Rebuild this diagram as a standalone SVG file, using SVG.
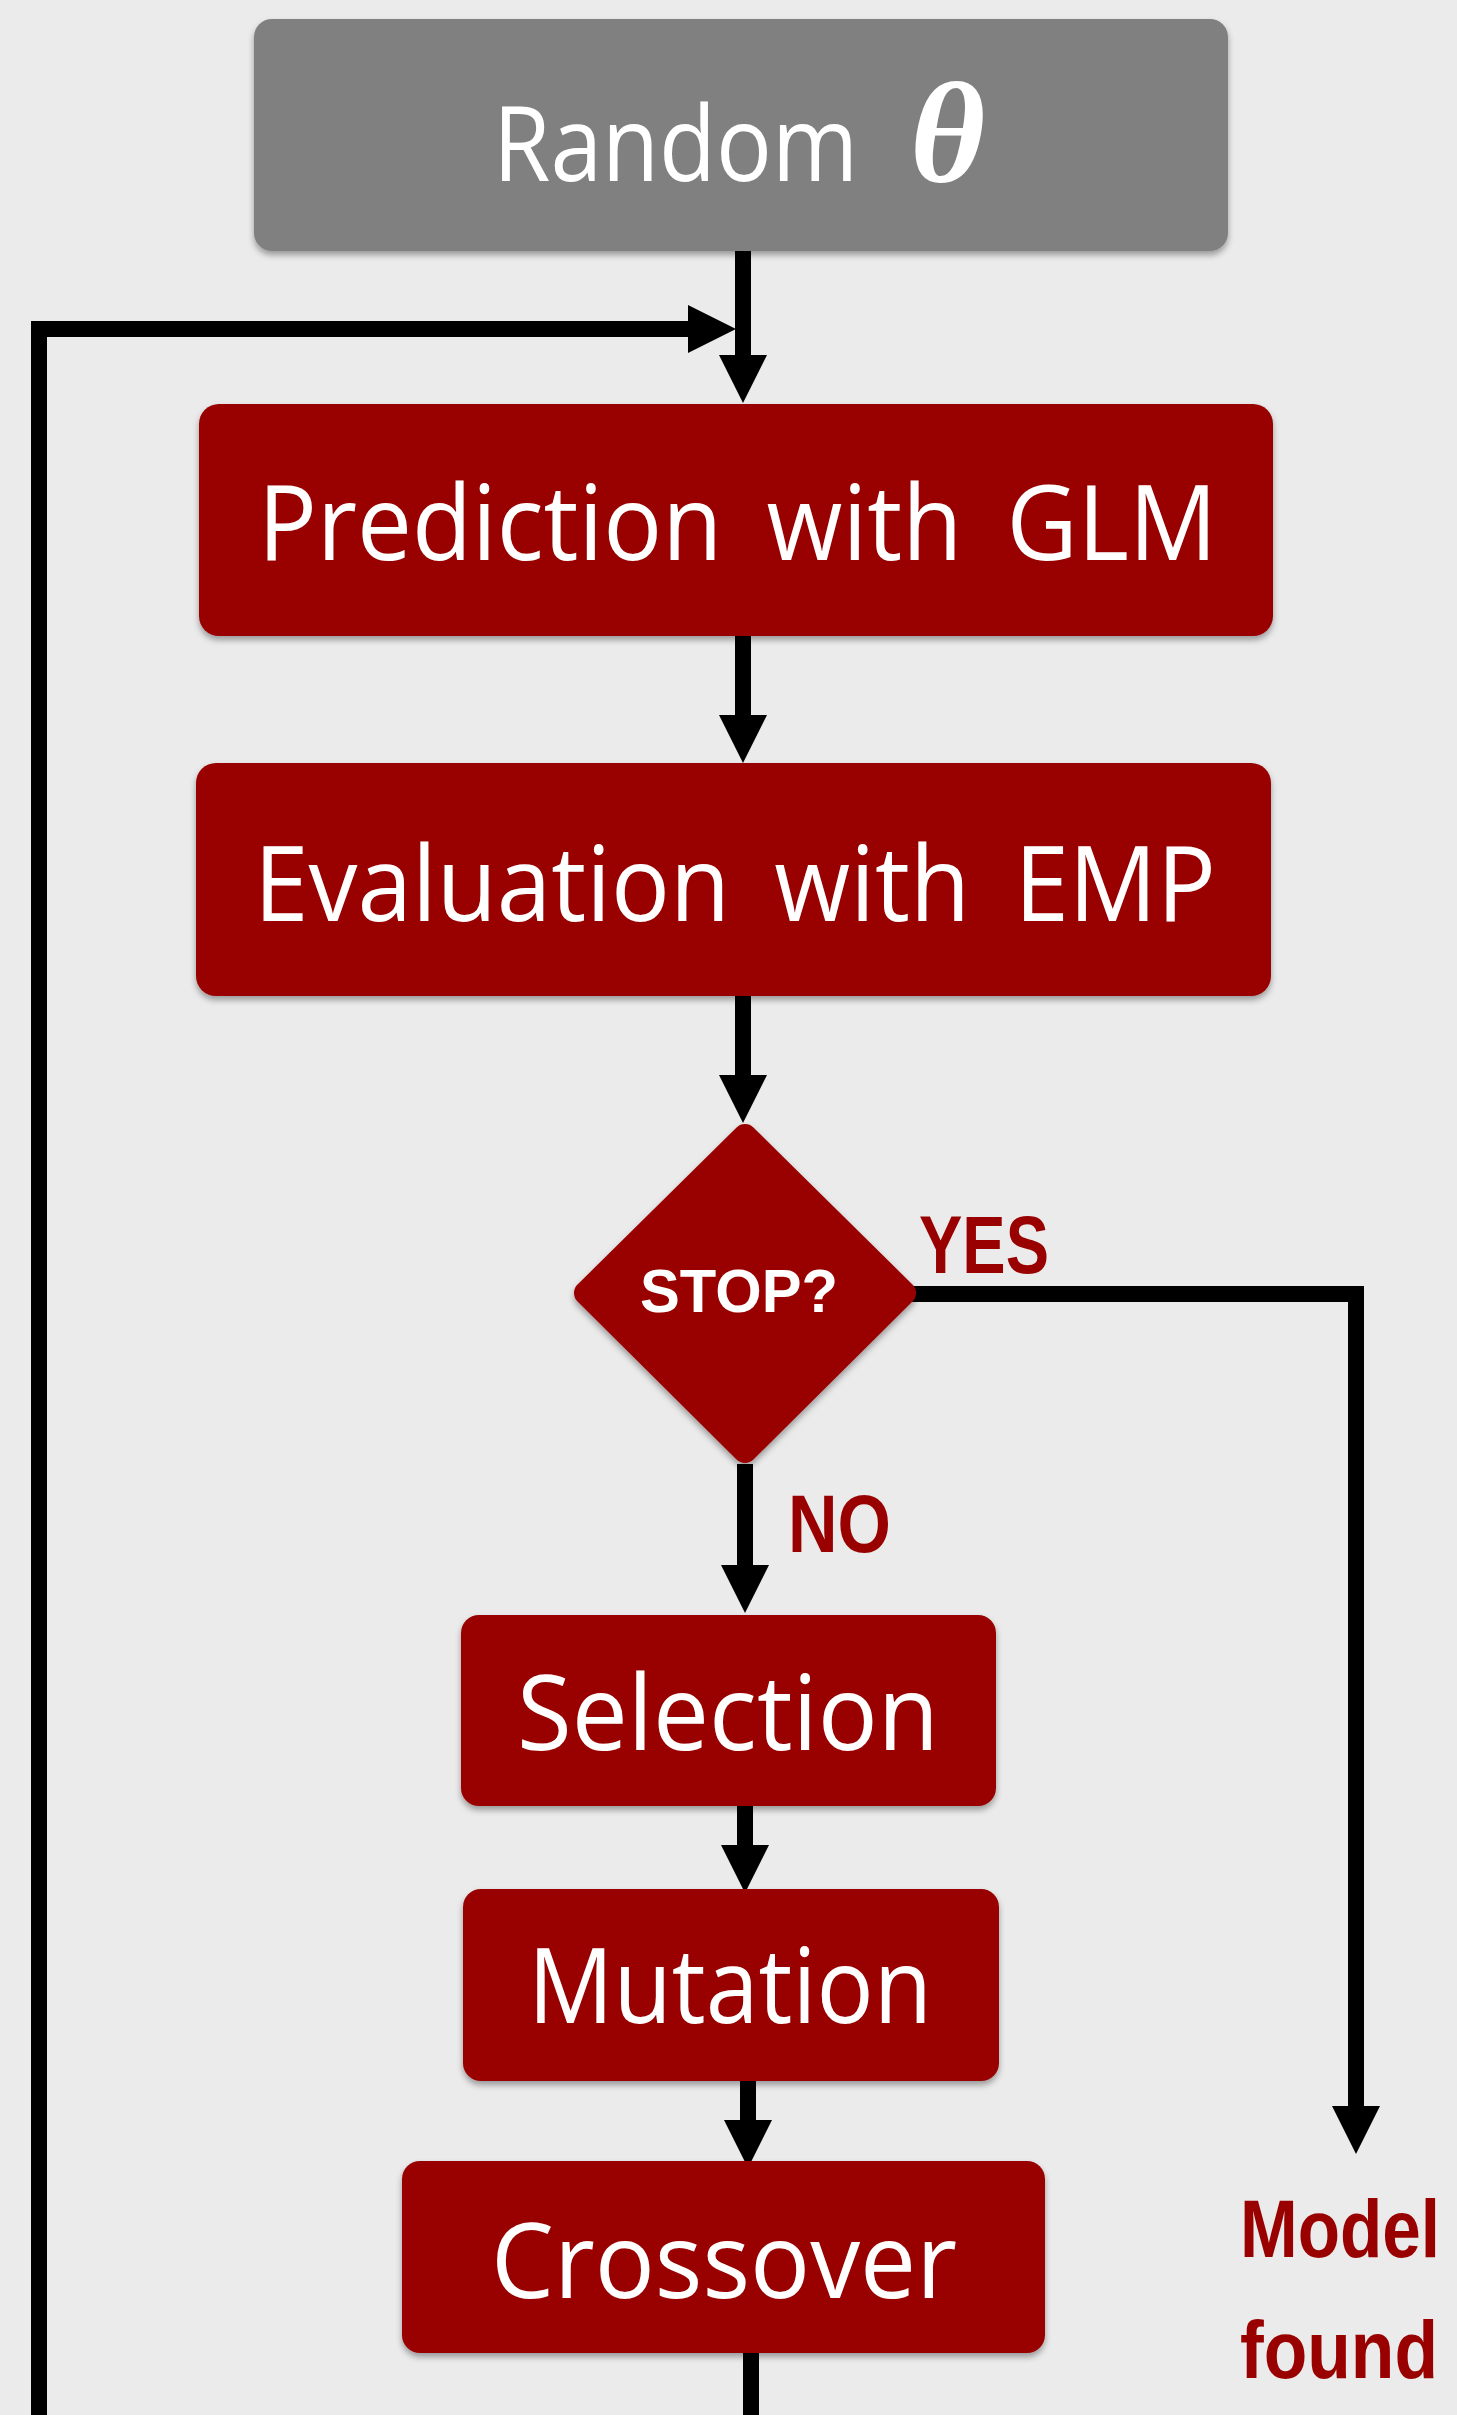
<svg xmlns="http://www.w3.org/2000/svg" width="1457" height="2415" viewBox="0 0 1457 2415">
<style>
.box{fill:#990000;filter:url(#sh)}
.gbox{fill:#808080;filter:url(#sh)}
.t{font-family:"Open Sans","Noto Sans","DejaVu Sans",sans-serif;font-size:104px;fill:#ffffff}
.lbl{font-family:"Liberation Sans",Arial,sans-serif;font-weight:bold;font-size:82px;fill:#990000}
.con{fill:none;stroke:#000;stroke-width:16;stroke-linejoin:miter}
</style>
<defs>
<filter id="sh" x="-10%" y="-10%" width="120%" height="130%">
<feDropShadow dx="0" dy="4" stdDeviation="3" flood-color="#000" flood-opacity="0.35"/>
</filter>
<marker id="ah" markerUnits="userSpaceOnUse" viewBox="0 0 48 48" markerWidth="48" markerHeight="48" refX="8" refY="24" orient="auto">
<path d="M0,0 L48,24 L0,48 z" fill="#000"/>
</marker>
</defs>
<rect width="1457" height="2415" fill="#ebebeb"/>

<g id="connectors">
<path class="con" d="M743,251 V363" marker-end="url(#ah)"/>
<path class="con" d="M743,636 V723" marker-end="url(#ah)"/>
<path class="con" d="M743,996 V1083" marker-end="url(#ah)"/>
<path class="con" d="M745,1464 V1573" marker-end="url(#ah)"/>
<path class="con" d="M745,1806 V1853" marker-end="url(#ah)"/>
<path class="con" d="M748,2081 V2128" marker-end="url(#ah)"/>
<path class="con" d="M912,1294 H1356 V2114" marker-end="url(#ah)"/>
<path class="con" d="M751,2353 V2423 H39 V329 H696" marker-end="url(#ah)"/>
</g>

<g id="random">
<rect class="gbox" x="254" y="19" width="974" height="232" rx="18"/>
<text class="t" x="493" y="181" textLength="365" lengthAdjust="spacingAndGlyphs">Random</text>
<text x="910" y="182" font-family="'Liberation Serif',serif" font-weight="bold" font-style="italic" font-size="145" fill="#fff">θ</text>
</g>

<g id="prediction">
<rect class="box" x="199" y="404" width="1074" height="232" rx="20"/>
<text class="t" x="258" y="560" textLength="959" lengthAdjust="spacingAndGlyphs" word-spacing="20">Prediction with GLM</text>
</g>

<g id="evaluation">
<rect class="box" x="196" y="763" width="1075" height="233" rx="20"/>
<text class="t" x="254" y="921" textLength="962" lengthAdjust="spacingAndGlyphs" word-spacing="20">Evaluation with EMP</text>
</g>

<g id="stop">
<polygon points="745,1136 904,1293 745,1451 586,1293" fill="#990000" stroke="#990000" stroke-width="24" stroke-linejoin="round" filter="url(#sh)"/>
<text x="640" y="1312" font-family="'Liberation Sans',Arial,sans-serif" font-weight="bold" font-size="61" fill="#fff" textLength="198" lengthAdjust="spacingAndGlyphs">STOP?</text>
</g>

<g id="yes-label">
<text class="lbl" x="919" y="1273" textLength="130" lengthAdjust="spacingAndGlyphs">YES</text>
</g>
<g id="no-label">
<text class="lbl" x="788" y="1552" font-size="80" textLength="103" lengthAdjust="spacingAndGlyphs">NO</text>
</g>

<g id="selection">
<rect class="box" x="461" y="1615" width="535" height="191" rx="18"/>
<text class="t" x="517" y="1750" textLength="422" lengthAdjust="spacingAndGlyphs">Selection</text>
</g>

<g id="mutation">
<rect class="box" x="463" y="1889" width="536" height="192" rx="18"/>
<text class="t" x="528" y="2023" textLength="404" lengthAdjust="spacingAndGlyphs">Mutation</text>
</g>

<g id="crossover">
<rect class="box" x="402" y="2161" width="643" height="192" rx="18"/>
<text class="t" x="491" y="2298" textLength="466" lengthAdjust="spacingAndGlyphs">Crossover</text>
</g>

<g id="model-found">
<text class="lbl" x="1240" y="2257" textLength="200" lengthAdjust="spacingAndGlyphs">Model</text>
<text class="lbl" x="1240" y="2378" textLength="198" lengthAdjust="spacingAndGlyphs">found</text>
</g>
</svg>
